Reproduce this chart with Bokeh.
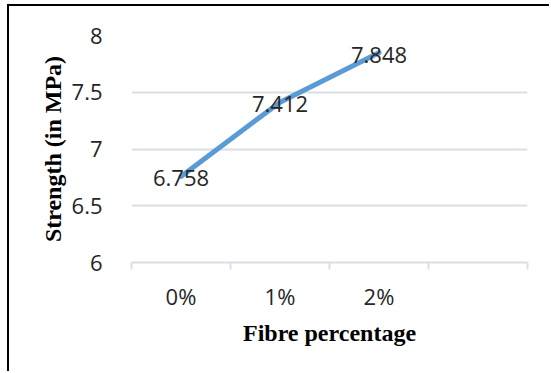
from bokeh.plotting import figure
from bokeh.models import Range1d, FixedTicker, ColumnDataSource
from bokeh.core.properties import value
from bokeh.embed import file_html
from bokeh.resources import INLINE

# Flexural strength for each fibre dosage
categories = ["0%", "1%", "2%"]
strength = [6.758, 7.412, 7.848]
n_slots = 4  # category slots on the x axis (last one left empty)

y_ticks = [6, 6.5, 7, 7.5, 8]
y_tick_labels = ["6", "6.5", "7", "7.5", "8"]

x_pos = [i + 0.5 for i in range(len(categories))]
src = ColumnDataSource(dict(x=x_pos, y=strength, label=[f"{v:.3f}" for v in strength]))

W, H = 542, 367
p = figure(width=W, height=H, output_backend="svg", toolbar_location=None,
           x_range=Range1d(0, n_slots), y_range=Range1d(y_ticks[0], y_ticks[-1]),
           min_border_left=122, min_border_right=24, min_border_top=29, min_border_bottom=111)
p.margin = (4, 0, 0, 7)
p.styles = {"border-left": "2px solid black", "border-top": "2px solid black"}
p.outline_line_color = None
p.background_fill_color = "white"
p.border_fill_color = "white"

grid_col = "#d9dee6"
label_font = "Open Sans"
title_font = "Liberation Serif"

# y axis
p.yaxis.ticker = FixedTicker(ticks=y_ticks)
p.yaxis.major_label_overrides = {t: s for t, s in zip(y_ticks, y_tick_labels)}
p.yaxis.axis_line_color = None
p.yaxis.major_tick_line_color = None
p.yaxis.minor_tick_line_color = None
p.yaxis.major_label_standoff = 23
p.yaxis.major_label_text_font = label_font
p.yaxis.major_label_text_font_size = "22px"
p.yaxis.major_label_text_color = "#262626"
p.yaxis.axis_label = "Strength (in MPa)"
p.yaxis.axis_label_text_font = title_font
p.yaxis.axis_label_text_font_style = "bold"
p.yaxis.axis_label_text_font_size = "24px"
p.yaxis.axis_label_text_color = "black"
p.yaxis.axis_label_standoff = 3

# x axis: labels at slot centres, ticks at slot boundaries
p.xaxis.ticker = FixedTicker(ticks=x_pos, minor_ticks=list(range(n_slots + 1)))
p.xaxis.major_label_overrides = {x: c for x, c in zip(x_pos, categories)}
p.xaxis.major_tick_line_color = None
p.xaxis.minor_tick_line_color = grid_col
p.xaxis.minor_tick_line_width = 2
p.xaxis.minor_tick_in = 0
p.xaxis.minor_tick_out = 7
p.xaxis.axis_line_color = grid_col
p.xaxis.axis_line_width = 2
p.xaxis.major_label_standoff = 11
p.xaxis.major_label_text_font = label_font
p.xaxis.major_label_text_font_size = "22px"
p.xaxis.major_label_text_color = "#262626"
p.xaxis.axis_label = "Fibre percentage"
p.xaxis.axis_label_text_font = title_font
p.xaxis.axis_label_text_font_style = "bold"
p.xaxis.axis_label_text_font_size = "24px"
p.xaxis.axis_label_text_color = "black"
p.xaxis.axis_label_standoff = 6

p.xgrid.grid_line_color = None
p.ygrid.ticker = FixedTicker(ticks=y_ticks)
p.ygrid.grid_line_color = grid_col
p.ygrid.grid_line_width = 2

p.line("x", "y", source=src, line_color="#5b9bd5", line_width=5,
       line_join="round", line_cap="round")
p.text("x", "y", text="label", source=src, text_align="center", text_baseline="middle",
       y_offset=2, text_font=value(label_font), text_font_size="22px", text_color="#262626")

open("out.html", "w").write(file_html(p, INLINE))
